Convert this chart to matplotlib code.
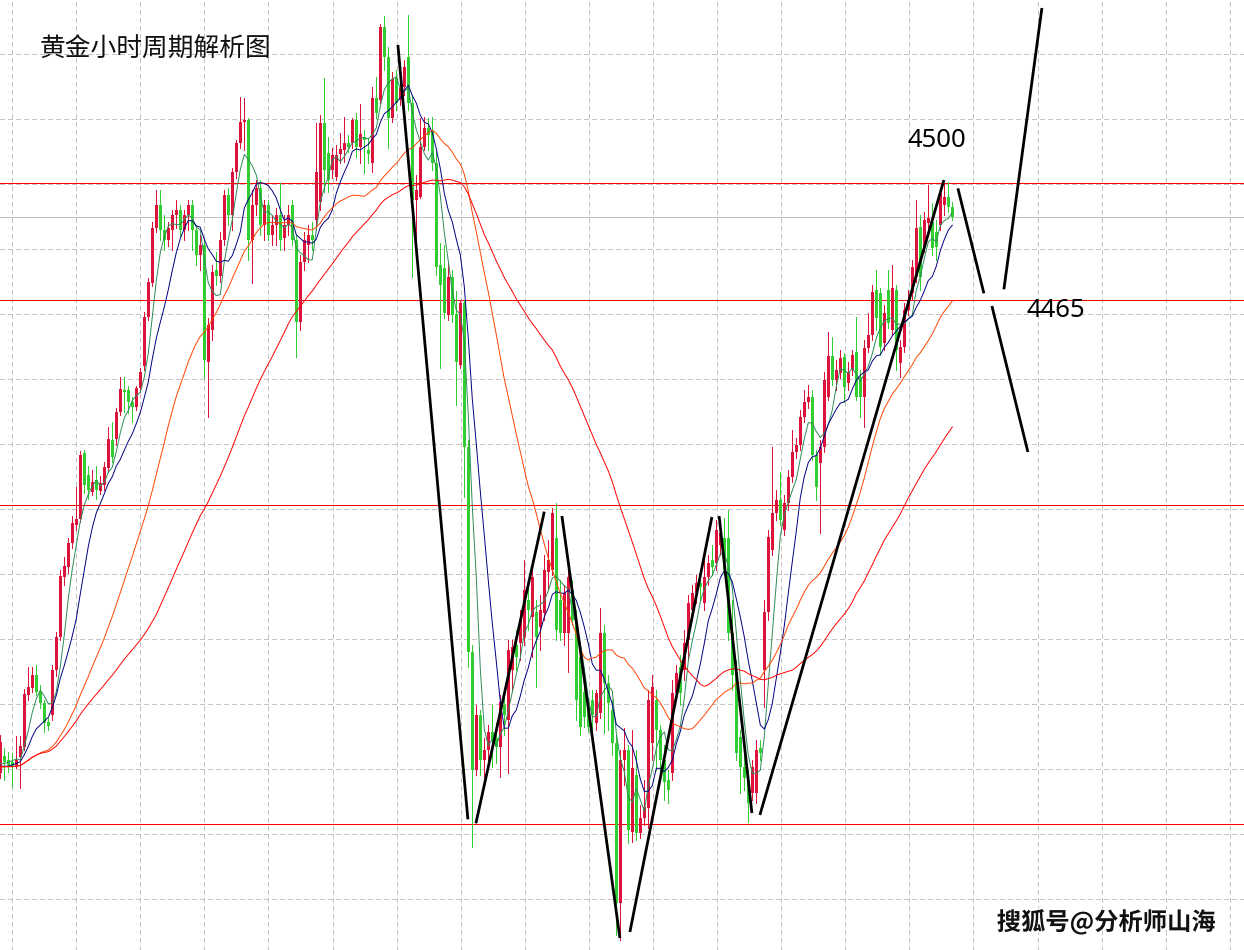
import numpy as np
import pandas as pd
import matplotlib
matplotlib.use('Agg')
import matplotlib.pyplot as plt
from matplotlib import patheffects

plt.rcParams['font.family'] = ['Noto Sans CJK SC', 'DejaVu Sans']

# hourly gold candles (oldest first), prices
opens = [
    4323.1, 4328.2, 4327.0, 4326.4, 4325.2, 4327.9, 4330.9, 4346.5, 4348.6, 4352.5,
    4347.4, 4344.1, 4338.4, 4340.5, 4354.0, 4363.9, 4381.9, 4384.9, 4392.1, 4397.5,
    4399.3, 4419.1, 4412.5, 4407.4, 4411.0, 4407.7, 4409.5, 4414.6, 4423.0, 4423.3,
    4431.4, 4438.0, 4438.0, 4434.4, 4432.9, 4438.6, 4445.2, 4459.9, 4470.1, 4486.6,
    4493.5, 4486.0, 4483.0, 4486.0, 4490.5, 4492.0, 4486.0, 4490.5, 4493.5, 4486.0,
    4478.5, 4481.5, 4446.4, 4456.0, 4474.0, 4472.2, 4483.0, 4496.5, 4490.5, 4503.4,
    4512.1, 4518.4, 4519.0, 4483.0, 4493.5, 4498.6, 4487.5, 4493.5, 4484.5, 4487.5,
    4490.5, 4483.6, 4487.5, 4493.5, 4483.0, 4458.4, 4476.4, 4481.5, 4484.5, 4489.0,
    4494.4, 4518.1, 4509.1, 4504.0, 4501.9, 4508.8, 4510.0, 4512.1, 4512.1, 4519.0,
    4510.9, 4513.9, 4510.0, 4506.1, 4525.6, 4525.0, 4546.9, 4537.9, 4519.6, 4531.6,
    4525.0, 4528.9, 4537.9, 4524.1, 4495.0, 4495.9, 4510.9, 4516.6, 4516.0, 4506.1,
    4475.5, 4474.6, 4460.5, 4471.9, 4460.8, 4445.5, 4464.1, 4420.9, 4359.4, 4324.0,
    4340.5, 4327.0, 4330.0, 4335.4, 4333.6, 4330.9, 4343.5, 4339.0, 4354.0, 4361.5,
    4362.1, 4363.9, 4375.0, 4369.9, 4371.4, 4366.9, 4371.1, 4383.4, 4384.0, 4393.6,
    4375.0, 4365.1, 4365.1, 4378.0, 4368.1, 4357.9, 4347.4, 4342.9, 4345.0, 4338.1,
    4341.1, 4365.1, 4350.1, 4342.0, 4332.1, 4284.1, 4327.0, 4330.0, 4305.4, 4322.5,
    4305.1, 4309.6, 4312.6, 4332.1, 4345.0, 4336.0, 4327.0, 4321.0, 4323.1, 4347.1,
    4354.9, 4354.0, 4363.0, 4372.0, 4377.1, 4380.1, 4374.1, 4381.9, 4387.0, 4386.1,
    4391.5, 4393.6, 4393.6, 4365.1, 4353.1, 4333.9, 4324.9, 4321.0, 4317.1, 4317.1,
    4330.6, 4354.0, 4371.4, 4390.0, 4401.1, 4405.0, 4396.0, 4404.1, 4411.9, 4419.4,
    4421.5, 4429.9, 4434.4, 4435.9, 4418.5, 4416.1, 4420.9, 4435.9, 4448.2, 4441.0,
    4443.1, 4447.9, 4440.1, 4444.0, 4449.4, 4441.9, 4435.9, 4450.6, 4454.5, 4468.0,
    4467.1, 4452.1, 4468.0, 4456.0, 4468.0, 4446.1, 4450.9, 4462.0, 4467.1, 4471.9,
    4486.9, 4480.9, 4488.1, 4488.4, 4485.4, 4487.5, 4493.5, 4495.9, 4492.9,
]
closes = [
    4332.4, 4326.4, 4325.5, 4325.2, 4327.0, 4331.2, 4346.8, 4348.9, 4352.5, 4347.4,
    4344.1, 4338.1, 4337.2, 4354.0, 4363.9, 4382.2, 4385.2, 4392.1, 4398.1, 4399.3,
    4418.5, 4409.5, 4408.0, 4410.4, 4408.0, 4410.1, 4414.9, 4423.3, 4417.9, 4431.4,
    4438.3, 4437.4, 4434.4, 4432.9, 4438.6, 4443.4, 4459.9, 4470.4, 4486.6, 4493.5,
    4486.0, 4483.0, 4486.6, 4490.5, 4492.0, 4486.0, 4490.5, 4493.5, 4486.0, 4478.5,
    4481.5, 4447.0, 4457.5, 4473.4, 4472.2, 4483.0, 4496.5, 4490.5, 4503.4, 4512.1,
    4518.4, 4519.0, 4483.0, 4493.5, 4498.6, 4487.5, 4493.5, 4484.5, 4487.5, 4490.5,
    4483.0, 4487.5, 4490.5, 4483.0, 4458.4, 4476.4, 4483.0, 4484.5, 4483.0, 4503.4,
    4518.1, 4504.0, 4501.0, 4508.5, 4508.5, 4510.3, 4512.1, 4510.9, 4519.0, 4510.9,
    4514.8, 4513.0, 4508.8, 4525.6, 4521.1, 4546.9, 4537.9, 4519.6, 4531.3, 4524.1,
    4528.6, 4534.9, 4524.1, 4495.0, 4498.0, 4510.9, 4516.6, 4514.5, 4506.1, 4474.9,
    4469.5, 4461.1, 4471.9, 4460.5, 4446.4, 4464.1, 4420.9, 4359.4, 4324.0, 4340.5,
    4327.0, 4330.0, 4335.4, 4333.0, 4330.9, 4344.4, 4340.5, 4360.0, 4360.9, 4357.9,
    4369.0, 4378.0, 4372.0, 4381.9, 4363.9, 4372.0, 4384.0, 4387.0, 4401.1, 4366.0,
    4365.1, 4377.1, 4381.9, 4369.0, 4345.0, 4336.9, 4339.9, 4336.9, 4340.5, 4347.1,
    4365.1, 4350.1, 4344.1, 4332.1, 4284.1, 4327.0, 4330.0, 4306.0, 4324.6, 4305.1,
    4309.6, 4312.9, 4345.0, 4348.9, 4336.0, 4327.0, 4320.4, 4318.0, 4347.1, 4353.1,
    4347.1, 4362.1, 4374.1, 4377.1, 4380.1, 4378.9, 4381.9, 4386.1, 4384.9, 4396.0,
    4395.1, 4384.0, 4365.1, 4352.5, 4329.1, 4324.9, 4321.6, 4314.1, 4324.9, 4330.0,
    4329.1, 4371.4, 4393.9, 4401.1, 4405.0, 4399.0, 4404.1, 4411.9, 4419.4, 4421.5,
    4429.9, 4434.4, 4435.9, 4418.5, 4408.9, 4420.9, 4441.0, 4448.2, 4441.0, 4444.0,
    4447.6, 4438.9, 4443.4, 4448.5, 4435.9, 4435.9, 4450.6, 4454.5, 4467.4, 4459.6,
    4450.9, 4461.1, 4458.1, 4468.6, 4450.0, 4450.9, 4462.0, 4465.0, 4474.9, 4486.6,
    4471.9, 4489.0, 4489.6, 4480.6, 4480.9, 4497.1, 4495.9, 4492.9, 4489.9,
]
highs = [
    4334.5, 4330.6, 4329.4, 4329.1, 4334.2, 4334.2, 4348.3, 4354.9, 4354.9, 4355.5,
    4349.5, 4345.0, 4339.6, 4355.5, 4365.4, 4384.0, 4387.9, 4393.6, 4400.2, 4408.9,
    4419.7, 4420.0, 4415.2, 4414.0, 4415.2, 4412.2, 4416.4, 4426.9, 4428.4, 4432.6,
    4441.9, 4441.9, 4439.2, 4435.9, 4439.2, 4444.6, 4461.4, 4471.6, 4488.4, 4498.0,
    4498.0, 4490.5, 4488.4, 4492.0, 4495.0, 4493.5, 4492.0, 4495.0, 4495.0, 4487.5,
    4484.5, 4483.0, 4459.6, 4475.5, 4479.4, 4485.4, 4498.0, 4498.6, 4504.6, 4513.0,
    4525.9, 4525.6, 4519.6, 4498.0, 4501.0, 4501.0, 4495.0, 4495.0, 4490.5, 4492.6,
    4500.1, 4490.5, 4493.5, 4495.0, 4484.5, 4478.5, 4485.4, 4487.5, 4488.4, 4518.1,
    4520.5, 4531.6, 4513.9, 4510.6, 4511.5, 4515.1, 4519.9, 4514.5, 4519.6, 4521.1,
    4523.8, 4516.0, 4513.6, 4528.9, 4531.9, 4547.8, 4550.2, 4540.9, 4533.4, 4534.0,
    4531.0, 4537.0, 4550.5, 4526.5, 4502.5, 4519.6, 4519.9, 4519.6, 4519.9, 4510.0,
    4482.1, 4481.5, 4476.1, 4474.0, 4467.7, 4465.0, 4465.0, 4423.0, 4361.5, 4343.5,
    4342.0, 4333.6, 4337.5, 4343.5, 4338.1, 4346.5, 4348.0, 4363.0, 4363.0, 4366.0,
    4372.0, 4387.0, 4379.5, 4387.0, 4375.0, 4376.5, 4388.5, 4393.0, 4402.6, 4404.1,
    4381.0, 4379.5, 4384.0, 4381.0, 4372.0, 4360.0, 4351.0, 4345.0, 4348.0, 4348.0,
    4372.6, 4367.5, 4352.5, 4345.0, 4334.5, 4330.0, 4336.6, 4331.5, 4336.0, 4330.0,
    4313.5, 4321.0, 4348.0, 4352.5, 4348.0, 4337.5, 4331.5, 4324.0, 4351.0, 4355.5,
    4358.5, 4366.0, 4376.5, 4379.5, 4382.5, 4384.0, 4387.0, 4388.5, 4391.5, 4399.0,
    4399.0, 4399.6, 4402.0, 4375.0, 4357.0, 4336.0, 4328.5, 4324.0, 4327.0, 4333.0,
    4333.0, 4375.0, 4396.0, 4420.9, 4408.0, 4413.4, 4406.5, 4414.0, 4426.0, 4423.6,
    4432.0, 4438.0, 4439.5, 4438.0, 4420.0, 4423.0, 4443.4, 4455.4, 4453.9, 4447.0,
    4450.0, 4449.1, 4446.4, 4450.0, 4459.9, 4444.0, 4453.0, 4461.1, 4469.5, 4474.0,
    4468.6, 4463.5, 4474.0, 4475.5, 4469.5, 4453.0, 4464.1, 4468.0, 4477.0, 4495.0,
    4490.5, 4491.4, 4499.5, 4494.1, 4489.0, 4497.4, 4500.1, 4500.4, 4494.4,
]
lows = [
    4321.6, 4321.0, 4323.4, 4318.9, 4324.6, 4318.6, 4330.0, 4345.0, 4347.4, 4346.5,
    4342.6, 4335.4, 4336.0, 4339.0, 4352.2, 4363.0, 4379.5, 4383.1, 4390.6, 4396.0,
    4398.4, 4407.1, 4405.3, 4406.5, 4405.3, 4406.8, 4408.0, 4413.4, 4416.4, 4421.5,
    4430.5, 4431.4, 4431.1, 4428.4, 4432.0, 4437.4, 4444.0, 4459.0, 4469.2, 4485.4,
    4483.0, 4480.0, 4481.2, 4480.0, 4486.6, 4484.2, 4483.0, 4486.0, 4480.0, 4475.5,
    4474.0, 4441.6, 4429.9, 4453.0, 4469.5, 4470.4, 4481.5, 4487.5, 4486.0, 4501.6,
    4510.6, 4510.0, 4477.0, 4470.1, 4490.5, 4484.5, 4483.0, 4483.0, 4481.5, 4481.5,
    4480.0, 4480.0, 4484.5, 4481.5, 4447.9, 4456.0, 4474.0, 4476.4, 4480.0, 4486.0,
    4492.0, 4497.4, 4497.4, 4501.6, 4501.0, 4506.1, 4506.4, 4509.4, 4510.6, 4507.9,
    4506.1, 4503.1, 4506.1, 4503.4, 4519.6, 4524.1, 4534.0, 4510.6, 4518.4, 4522.0,
    4523.5, 4526.5, 4522.0, 4471.9, 4483.0, 4495.6, 4510.0, 4510.0, 4504.0, 4472.5,
    4444.6, 4459.6, 4459.0, 4458.4, 4433.5, 4444.6, 4405.9, 4354.9, 4300.9, 4322.5,
    4322.5, 4321.9, 4324.0, 4324.9, 4326.1, 4321.9, 4334.5, 4323.1, 4348.0, 4354.0,
    4357.0, 4361.5, 4366.0, 4357.9, 4348.9, 4360.0, 4369.0, 4378.0, 4382.5, 4363.0,
    4363.0, 4361.5, 4353.4, 4367.5, 4339.0, 4334.5, 4336.9, 4335.4, 4333.0, 4336.0,
    4339.6, 4335.1, 4336.0, 4328.5, 4274.5, 4273.0, 4319.5, 4302.1, 4302.4, 4303.0,
    4303.6, 4307.5, 4306.6, 4327.0, 4324.0, 4322.5, 4315.0, 4314.1, 4321.0, 4345.0,
    4343.5, 4351.0, 4357.0, 4369.0, 4374.1, 4375.0, 4372.0, 4379.5, 4382.5, 4384.0,
    4388.5, 4382.5, 4363.0, 4348.0, 4327.0, 4317.1, 4318.0, 4308.4, 4315.0, 4314.1,
    4327.0, 4342.9, 4369.0, 4388.5, 4399.0, 4397.5, 4394.5, 4402.0, 4410.4, 4417.6,
    4420.0, 4428.4, 4432.6, 4417.0, 4405.0, 4395.1, 4419.4, 4435.0, 4439.5, 4438.0,
    4441.6, 4434.4, 4438.0, 4442.5, 4435.0, 4429.9, 4426.9, 4449.4, 4453.0, 4456.0,
    4448.5, 4450.0, 4456.6, 4454.5, 4444.0, 4441.9, 4449.4, 4460.5, 4465.0, 4470.4,
    4468.0, 4479.4, 4486.6, 4478.5, 4477.0, 4486.0, 4490.5, 4491.4, 4489.0,
]

# closes just before the visible window, estimated from where the averages start
warmup_closes = [
    4324.6, 4323.4, 4325.5, 4324.0, 4322.2, 4326.4, 4327.6, 4325.2, 4322.8, 4324.0,
    4325.8, 4327.0, 4324.6, 4321.6, 4323.4, 4325.2, 4326.4, 4324.0, 4322.5, 4324.6,
]

ma_periods = [5, 10, 30, 60]
ma_colors = ['#2e8b57', '#000080', '#ff4500', '#ff0000']

levels = [4500.0, 4465.0, 4403.5, 4307.8]

# hand drawn swing lines: (candle from, price from, candle to, price to)
swing_lines = [
    (99.4, 4541.5, 116.9, 4309.2),
    (118.9, 4308.0, 136.0, 4401.5),
    (140.4, 4400.2, 154.9, 4273.6),
    (157.4, 4275.4, 177.9, 4399.9),
    (179.7, 4400.2, 187.9, 4311.1),
    (189.9, 4310.5, 235.9, 4501.0),
    (239.4, 4498.5, 245.9, 4467.0),
    (247.9, 4463.2, 256.9, 4419.4),
    (250.9, 4468.2, 260.4, 4552.6),
]

title = '黄金小时周期解析图'
label_4500 = '4500'
label_4465 = '4465'
watermark = '搜狐号@分析师山海'

o = np.array(opens)
c = np.array(closes)
h = np.array(highs)
l = np.array(lows)
idx = np.arange(len(c))

fig = plt.figure(figsize=(12.44, 9.5), dpi=100)
ax = fig.add_axes([0, 0, 1, 1])
ax.set_xlim(-0.075, 310.925)
ax.set_ylim(4270, 4555)
ax.axis('off')

# dashed grid, about 64px apart horizontally and 65px vertically
for gx in np.arange(2.925, 311, 16.025):
    ax.axvline(gx, color='#c4c4c4', lw=0.6, ls=(0, (5, 4)), zorder=1, antialiased=False)
for gy in np.arange(4538.8, 4270, -19.5):
    ax.axhline(gy, color='#c4c4c4', lw=0.6, ls=(0, (5, 4)), zorder=1, antialiased=False)

for lv in levels:
    ax.axhline(lv, color='#ff0000', lw=0.6, zorder=2, antialiased=False)
ax.axhline(c[-1], color='#c0c0c0', lw=0.6, zorder=2, antialiased=False)

# red = up, green = down
cols = np.where(c > o, '#dc143c', '#32cd32')
ax.vlines(idx, l, h, colors=cols, lw=0.72, zorder=3, antialiased=False)
body = np.maximum(np.abs(c - o), 0.3)
ax.bar(idx, body, bottom=np.minimum(o, c), width=0.88, color=cols,
       linewidth=0, zorder=3, antialiased=False)

s = pd.Series(warmup_closes + closes)
for p, col in zip(ma_periods, ma_colors):
    ma = s.rolling(p, min_periods=1).mean().iloc[len(warmup_closes):]
    ax.plot(idx, ma.values, color=col, lw=0.7, zorder=4)

for x0, y0, x1, y1 in swing_lines:
    ax.plot([x0, x1], [y0, y1], color='black', lw=2.0, zorder=6, solid_capstyle='butt')

fig.text(40 / 1244, 1 - 50 / 950, title, fontsize=18.5, color='#111111',
         ha='left', va='center')
fig.text(937 / 1244, 1 - 147 / 950, label_4500, fontsize=18.5, color='black',
         ha='center', va='baseline', family=['Noto Sans', 'DejaVu Sans'])
fig.text(1056 / 1244, 1 - 317 / 950, label_4465, fontsize=18.5, color='black',
         ha='center', va='baseline', family=['Noto Sans', 'DejaVu Sans'])
fig.text(1106 / 1244, 1 - 922 / 950, watermark, fontsize=17.5, color='#111111',
         ha='center', va='center', fontweight='bold',
         path_effects=[patheffects.withStroke(linewidth=2.0, foreground='white')])

fig.savefig('out.png', dpi=100, facecolor='white')
